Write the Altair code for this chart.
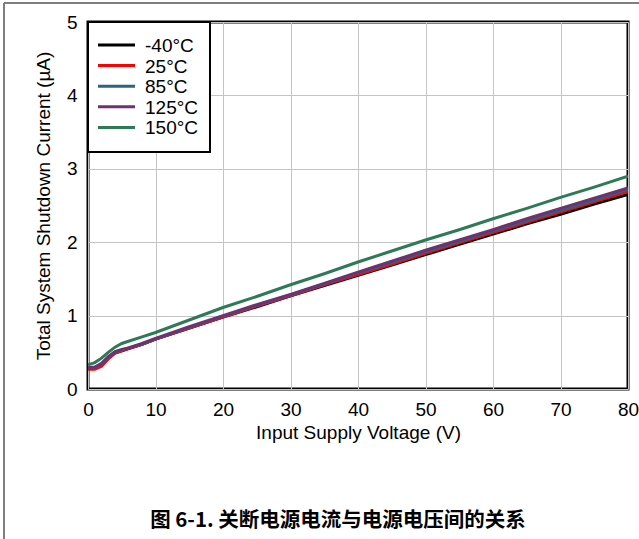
import altair as alt
import pandas as pd

# Input supply voltage (V)
voltage = [0, 1, 2, 3, 4, 5, 6, 8, 10, 15, 20, 25, 30, 35, 40, 45, 50, 55, 60, 65, 70, 75, 80]

# Total system shutdown current (µA) per temperature
i_m40 = [0.28, 0.28, 0.32, 0.42, 0.49, 0.52, 0.55, 0.61, 0.68, 0.83, 0.98, 1.12, 1.27, 1.41,
         1.55, 1.69, 1.83, 1.97, 2.11, 2.25, 2.38, 2.52, 2.65]
i_25 = [0.27, 0.27, 0.31, 0.41, 0.49, 0.52, 0.55, 0.61, 0.68, 0.83, 0.98, 1.13, 1.27, 1.42,
        1.56, 1.70, 1.85, 1.99, 2.13, 2.27, 2.41, 2.55, 2.69]
i_85 = [0.29, 0.29, 0.34, 0.43, 0.50, 0.53, 0.56, 0.61, 0.68, 0.84, 0.99, 1.14, 1.28, 1.43,
        1.58, 1.72, 1.87, 2.01, 2.15, 2.29, 2.43, 2.57, 2.72]
i_125 = [0.29, 0.30, 0.35, 0.44, 0.51, 0.54, 0.56, 0.62, 0.69, 0.85, 1.00, 1.15, 1.29, 1.44,
         1.59, 1.74, 1.89, 2.03, 2.17, 2.32, 2.46, 2.60, 2.74]
i_150 = [0.33, 0.36, 0.42, 0.50, 0.57, 0.62, 0.65, 0.71, 0.77, 0.94, 1.11, 1.26, 1.42, 1.57,
         1.73, 1.88, 2.03, 2.17, 2.32, 2.46, 2.61, 2.75, 2.90]

temps = ["-40°C", "25°C", "85°C", "125°C", "150°C"]
colors = ["#000000", "#ff0000", "#2f6180", "#6e3270", "#2e7a57"]
series = [i_m40, i_25, i_85, i_125, i_150]

rows = []
for k, (t, vals) in enumerate(zip(temps, series)):
    for v, c in zip(voltage, vals):
        rows.append({"voltage": v, "current": c, "temp": t, "order": k})
df = pd.DataFrame(rows)

FONT = "Liberation Sans"
FS = 19

lines = alt.Chart(df).mark_line(strokeWidth=3, clip=True).encode(
    x=alt.X("voltage:Q", scale=alt.Scale(domain=[0, 80], nice=False),
            axis=alt.Axis(values=list(range(0, 81, 10)), title="Input Supply Voltage (V)",
                          grid=True, ticks=False, domain=False, labelPadding=11,
                          labelFlush=False, titlePadding=4)),
    y=alt.Y("current:Q", scale=alt.Scale(domain=[0, 5], nice=False),
            axis=alt.Axis(values=[0, 1, 2, 3, 4, 5], title="Total System Shutdown Current (µA)",
                          grid=True, ticks=False, domain=False, labelPadding=11,
                          labelFlush=False, titlePadding=13)),
    color=alt.Color("temp:N", sort=temps,
                    scale=alt.Scale(domain=temps, range=colors), legend=None),
    order=alt.Order("order:Q"),
    detail="temp:N",
)

# legend box with one line sample and label per temperature
legend_layers = [
    alt.Chart().mark_rect(fill="white", stroke="black", strokeWidth=2, clip=False).encode(
        x=alt.value(0), x2=alt.value(122), y=alt.value(0), y2=alt.value(130))
]
for k, (t, col) in enumerate(zip(temps, colors)):
    yy = 23 + k * 20.6
    legend_layers.append(
        alt.Chart().mark_rule(color=col, strokeWidth=3, clip=False).encode(
            x=alt.value(10), x2=alt.value(47), y=alt.value(yy)))
    legend_layers.append(
        alt.Chart().mark_text(text=t, font=FONT, fontSize=FS, align="left",
                              baseline="middle", color="black", clip=False).encode(
            x=alt.value(57), y=alt.value(yy + 1)))

# outer figure frame (left and top edges)
frame_left = alt.Chart().mark_rule(color="#7f7f7f", strokeWidth=2, clip=False).encode(
    x=alt.value(-84), y=alt.value(-19), y2=alt.value(530))
frame_top = alt.Chart().mark_rule(color="#7f7f7f", strokeWidth=2, clip=False).encode(
    x=alt.value(-84), x2=alt.value(560), y=alt.value(-19))

caption = alt.Chart().mark_text(
    text="图 6-1. 关断电源电流与电源电压间的关系", font="Noto Sans CJK SC",
    fontWeight="bold", fontSize=20.5, align="center", baseline="middle", clip=False,
).encode(x=alt.value(250), y=alt.value(499))

chart = alt.layer(lines, *legend_layers, frame_left, frame_top, caption).properties(
    width=540, height=367,
    padding={"left": 88, "top": 22, "right": 11, "bottom": 150},
    autosize=alt.AutoSizeParams(type="none"),
).configure_view(
    stroke="black", strokeWidth=3
).configure_axis(
    labelFont=FONT, titleFont=FONT, labelFontSize=FS, titleFontSize=FS,
    titleFontWeight="normal", labelColor="black", titleColor="black",
    gridColor="#c4c4c4", gridWidth=1,
)

chart.save("out.html", embed_options={"renderer": "svg", "actions": False})
